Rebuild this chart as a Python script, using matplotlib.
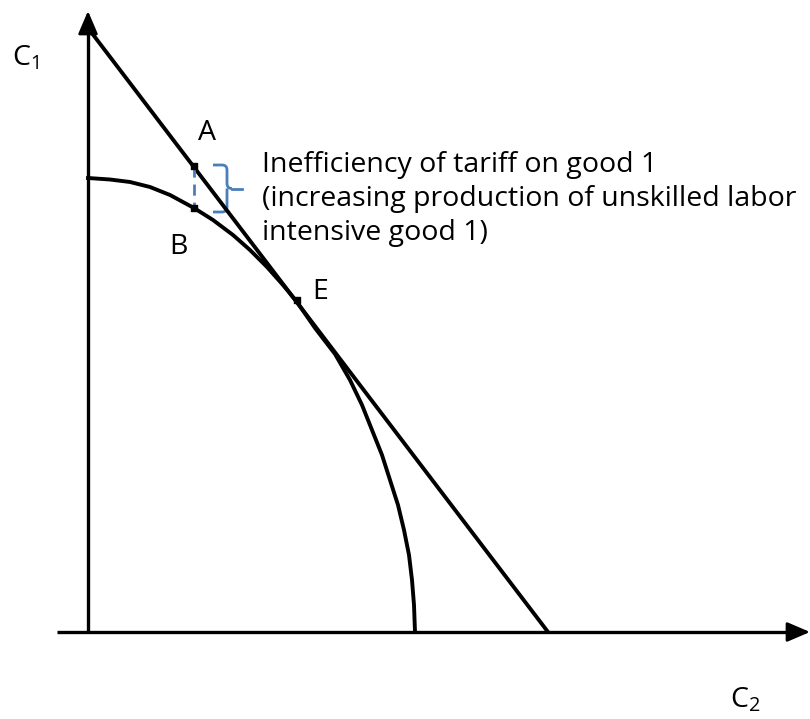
import matplotlib
matplotlib.use("Agg")
import matplotlib.pyplot as plt
from matplotlib.path import Path
from matplotlib.patches import PathPatch

plt.rcParams['font.family'] = ['Open Sans', 'DejaVu Sans']

# ---- data (chart units: origin at the axes corner) ----
budget_c2 = [0, 460]
budget_c1 = [604, 0]

ppf_c2 = [0, 22, 42, 62, 82, 106, 125, 145, 162, 179, 195, 209, 227, 247,
          262, 274, 284, 294, 302, 310, 316, 321, 324, 326, 327]
ppf_c1 = [454, 452.5, 450, 445, 437, 424, 412, 397, 382, 365, 347, 330, 304, 278,
          252, 227, 202, 177, 152, 127, 102, 77, 52, 27, 0]

point_names = ["A", "B", "E"]
point_c2 = [106, 106, 209]
point_c1 = [466, 424, 332]

annotation_lines = ["Inefficiency of tariff on good 1",
                    "(increasing production of unskilled labor",
                    "intensive good 1)"]

blue = "#4a7ebb"

fig = plt.figure(figsize=(8.1, 7.19), dpi=100)
ax = fig.add_axes([0, 0, 1, 1])
ax.set_xlim(-88, 722)
ax.set_ylim(-87, 632)
ax.axis("off")

# axes with arrows
ax.plot([-31, 712], [0, 0], color="black", lw=2.4, solid_capstyle="butt")
ax.plot([0, 0], [0, 610], color="black", lw=2.4, solid_capstyle="butt")
arrow_style = "-|>,head_length=0.7,head_width=0.3"
ax.annotate("", xy=(722, 0), xytext=(700, 0),
            arrowprops=dict(arrowstyle=arrow_style, color="black", lw=2.0,
                            mutation_scale=20, shrinkA=0, shrinkB=0))
ax.annotate("", xy=(0, 621), xytext=(0, 600),
            arrowprops=dict(arrowstyle=arrow_style, color="black", lw=2.0,
                            mutation_scale=20, shrinkA=0, shrinkB=0))

# budget line and PPF
ax.plot(budget_c2, budget_c1, color="black", lw=2.8, solid_capstyle="butt")
ax.plot(ppf_c2, ppf_c1, color="black", lw=2.8, solid_joinstyle="round")

# dashed gap A-B
ax.plot([point_c2[0], point_c2[1]], [point_c1[0], point_c1[1]],
        color=blue, lw=2, dashes=(4, 2.5))

# points
ax.scatter(point_c2, point_c1, marker="s", s=22, color="black", zorder=5)

# brace
yt, yb = point_c1[0] + 1, point_c1[1] - 4
ym = (yt + yb) / 2
xl, xv, xt = 125, 139, 154
r = 5
verts = [(xl, yt), (xv - r, yt), (xv, yt), (xv, yt - r),
         (xv, ym + r), (xv, ym), (xv + r, ym),
         (xv, ym), (xv, ym - r),
         (xv, yb + r), (xv, yb), (xv - r, yb), (xl, yb)]
codes = [Path.MOVETO, Path.LINETO, Path.CURVE3, Path.CURVE3,
         Path.LINETO, Path.CURVE3, Path.CURVE3,
         Path.MOVETO, Path.LINETO,
         Path.LINETO, Path.CURVE3, Path.CURVE3, Path.LINETO]
ax.add_patch(PathPatch(Path(verts, codes), fill=False, edgecolor=blue, lw=2))
ax.plot([xv + r, xt], [ym, ym], color=blue, lw=2)

# point labels
fs = 20.5
ax.text(119, 499, "A", fontsize=fs, ha="center", va="center")
ax.text(90, 385, "B", fontsize=fs, ha="center", va="center")
ax.text(232, 340, "E", fontsize=fs, ha="center", va="center")

# axis labels
ax.text(-76, 574, r"$\mathregular{C_1}$", fontsize=fs, ha="left", va="center")
ax.text(642, -68, r"$\mathregular{C_2}$", fontsize=fs, ha="left", va="center")

# annotation text
for i, line in enumerate(annotation_lines):
    ax.text(174, 460 - 34 * i, line, fontsize=fs, ha="left", va="baseline")

fig.savefig("out.png", dpi=100)
